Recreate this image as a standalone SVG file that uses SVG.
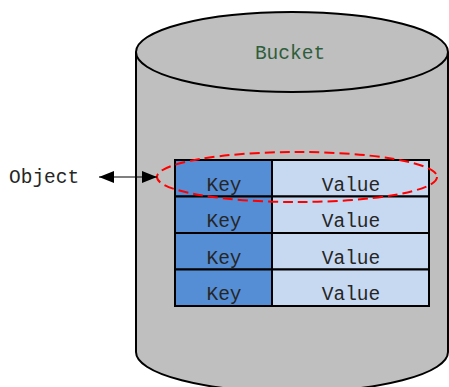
<svg xmlns="http://www.w3.org/2000/svg" width="449" height="387" viewBox="0 0 449 387">
  <defs>
    <marker id="head" viewBox="0 0 15 12" refX="15" refY="6" markerWidth="15" markerHeight="12" markerUnits="userSpaceOnUse" orient="auto-start-reverse">
      <path d="M0,0 L15,6 L0,12 Z" fill="#000"/>
    </marker>
    <style>
      .drum { fill: #bfbfbf; stroke: #000; stroke-width: 2; }
      .key { fill: #558ed5; stroke: #000; stroke-width: 2; }
      .val { fill: #c6d9f1; stroke: #000; stroke-width: 2; }
      .cell { font-family: "Liberation Mono", monospace; font-size: 19.5px; fill: #262626; text-anchor: middle; }
      .label { font-family: "Liberation Mono", monospace; font-size: 19.5px; fill: #262626; }
      .title { font-family: "Liberation Mono", monospace; font-size: 19.5px; fill: #2f5e3c; text-anchor: middle; }
    </style>
  </defs>

  <!-- bucket drum -->
  <g id="bucket">
    <path class="drum" d="M136,52 L136,352 A156,40 0 0 0 448,352 L448,52"/>
    <ellipse class="drum" cx="292" cy="52" rx="156" ry="40"/>
    <text class="title" x="290" y="59">Bucket</text>
  </g>

  <!-- key/value table -->
  <g id="table">
    <rect class="key" x="175" y="160" width="97" height="36.5"/>
    <rect class="val" x="272" y="160" width="157" height="36.5"/>
    <rect class="key" x="175" y="196.5" width="97" height="36.5"/>
    <rect class="val" x="272" y="196.5" width="157" height="36.5"/>
    <rect class="key" x="175" y="233" width="97" height="36.5"/>
    <rect class="val" x="272" y="233" width="157" height="36.5"/>
    <rect class="key" x="175" y="269.5" width="97" height="36.5"/>
    <rect class="val" x="272" y="269.5" width="157" height="36.5"/>
    <text class="cell" x="224" y="191">Key</text>
    <text class="cell" x="351" y="191">Value</text>
    <text class="cell" x="224" y="227">Key</text>
    <text class="cell" x="351" y="227">Value</text>
    <text class="cell" x="224" y="264">Key</text>
    <text class="cell" x="351" y="264">Value</text>
    <text class="cell" x="224" y="300">Key</text>
    <text class="cell" x="351" y="300">Value</text>
  </g>

  <!-- highlighted entry -->
  <g id="entry">
    <ellipse cx="297" cy="177" rx="140" ry="25" fill="none" stroke="#ff0000" stroke-width="2" stroke-dasharray="10 5"/>
  </g>

  <g id="object">
    <text class="label" x="9" y="183">Object</text>
  </g>

  <g id="connectors">
    <line x1="99" y1="177" x2="157" y2="177" stroke="#000" stroke-width="1.2" marker-start="url(#head)" marker-end="url(#head)"/>
  </g>
</svg>
